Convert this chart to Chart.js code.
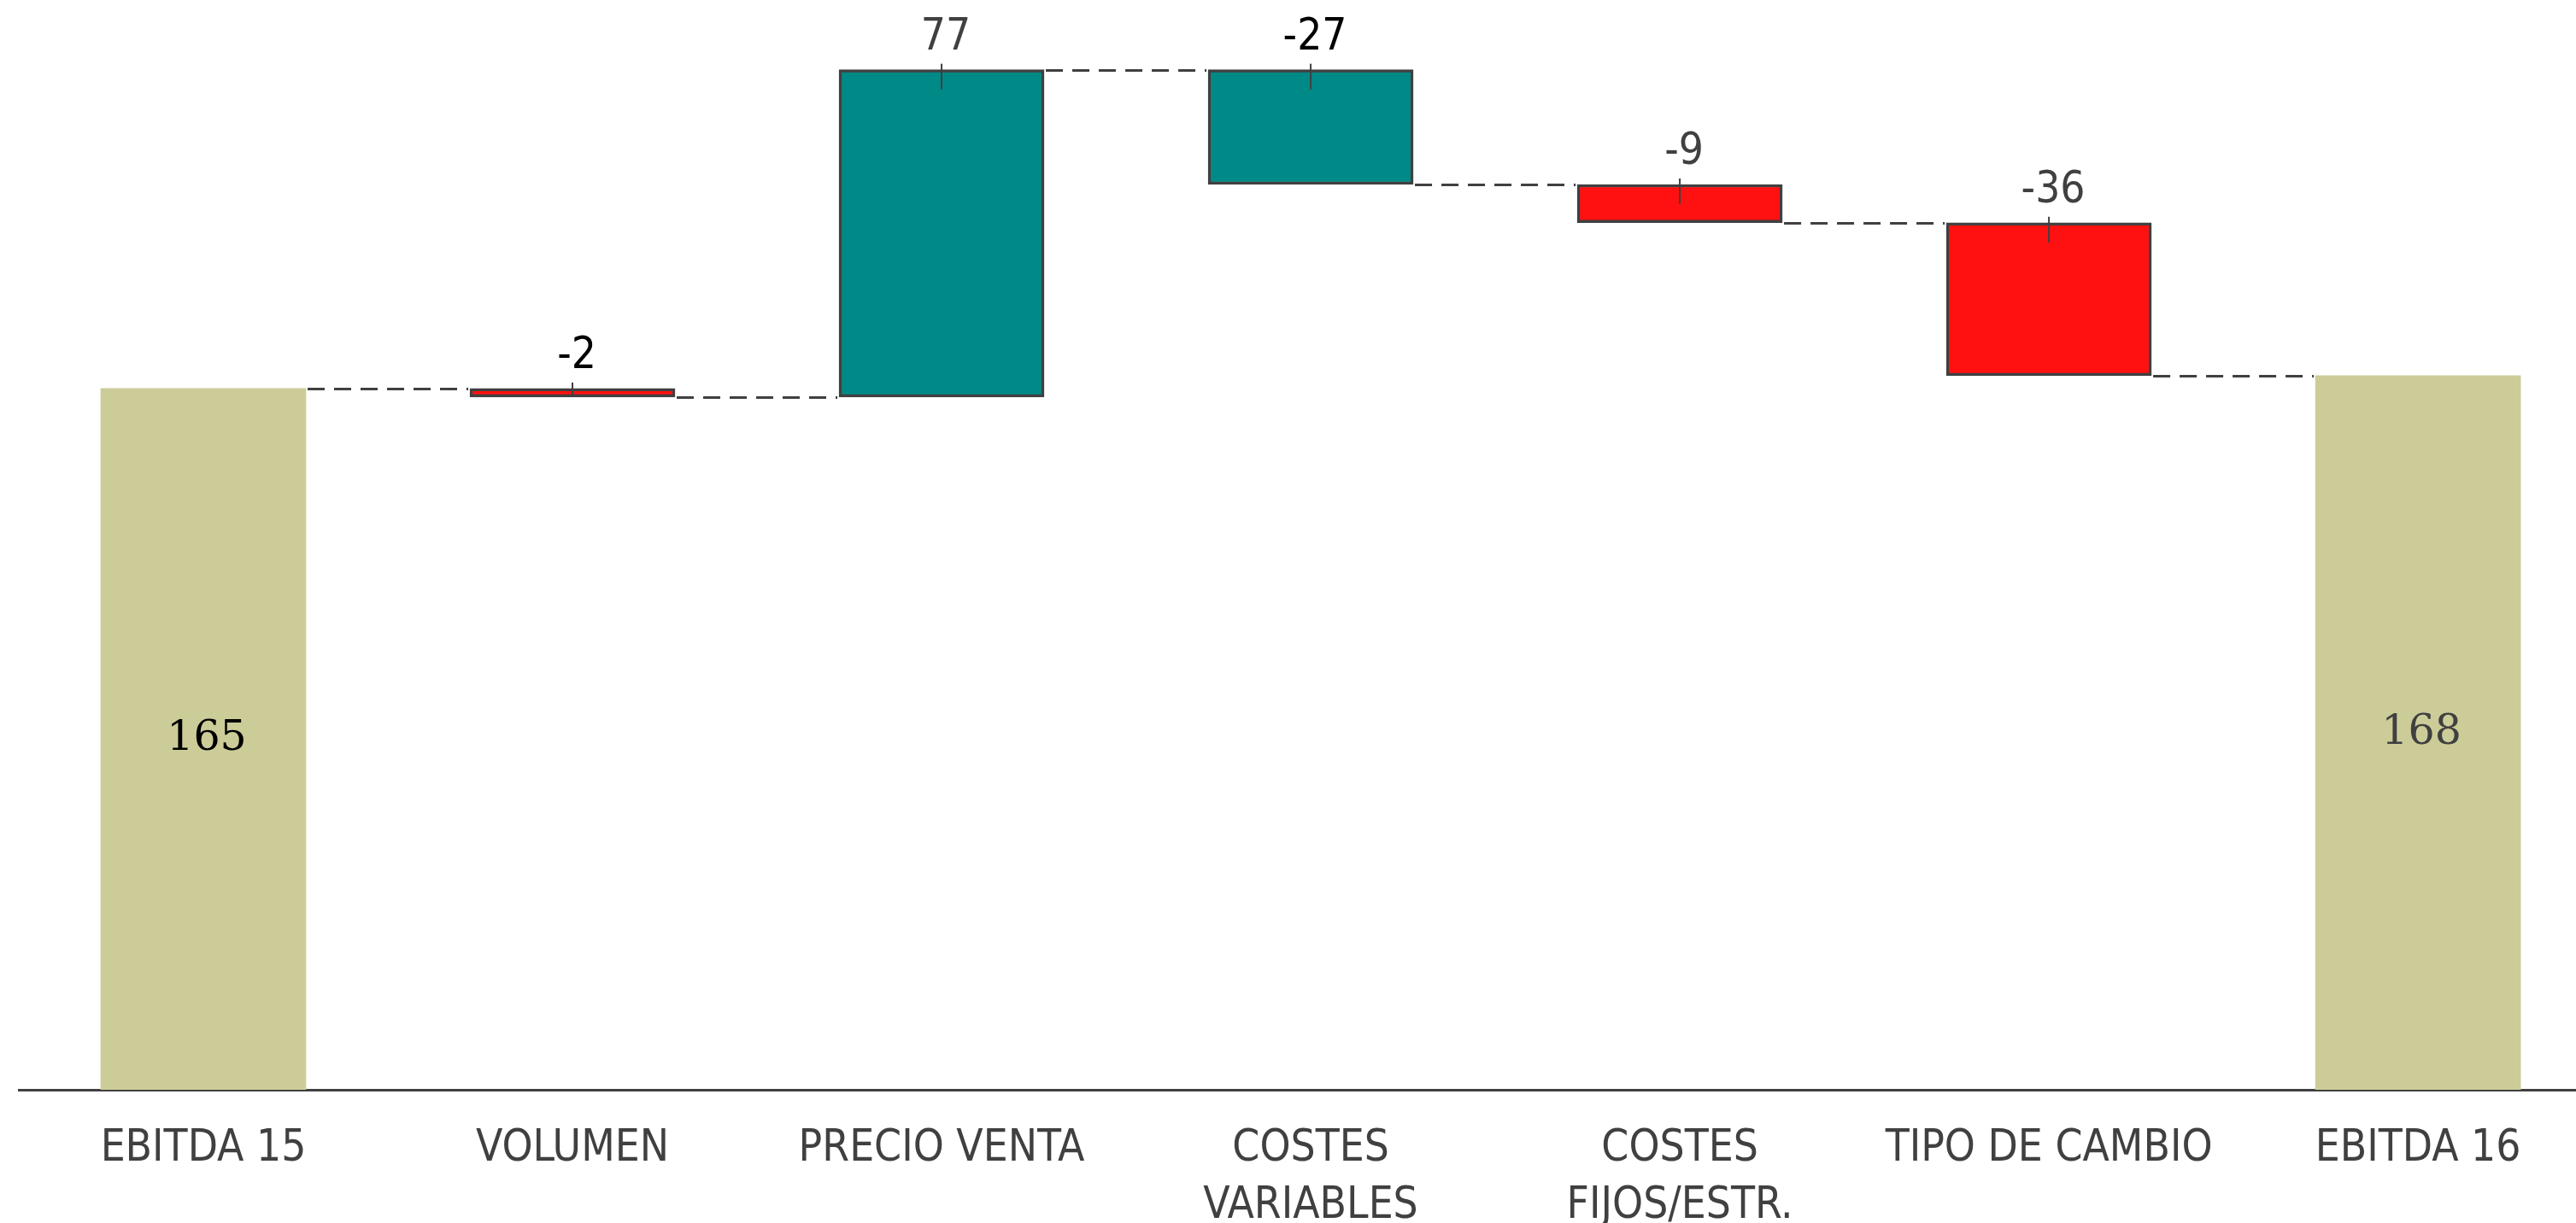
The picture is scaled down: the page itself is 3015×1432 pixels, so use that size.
<!DOCTYPE html>
<html>
<head>
<meta charset="utf-8">
<script src="https://cdn.jsdelivr.net/npm/chart.js@4.4.0/dist/chart.umd.min.js"></script>
<style>
    html, body { margin: 0; padding: 0; background: #ffffff; overflow: hidden; }
    #wrap { width: 3015px; height: 1432px; }
</style>
</head>
<body>
<div id="wrap"><canvas id="chart" width="3015" height="1432"></canvas></div>
<script>
// data
const categories = [['EBITDA 15'], ['VOLUMEN'], ['PRECIO VENTA'], ['COSTES', 'VARIABLES'], ['COSTES', 'FIJOS/ESTR.'], ['TIPO DE CAMBIO'], ['EBITDA 16']];
const changes = [165, -2, 77, -27, -9, -36, 168];
const isTotal = [true, false, false, false, false, false, true];
const barColors = ['#CCCC99', '#FF1111', '#008A87', '#008A87', '#FF1111', '#FF1111', '#CCCC99'];
const valueLabelColors = ['#000000', '#000000', '#404040', '#000000', '#404040', '#404040', '#404040'];

const axisColor = '#404040';
const sansFont = "'DejaVu Sans Condensed', 'DejaVu Sans', sans-serif";
const serifFont = "'DejaVu Serif', serif";

// build floating bars and running levels
let running = 0;
const ranges = [];
const levels = [];
changes.forEach((v, i) => {
    if (isTotal[i]) {
        ranges.push([0, v]);
        running = v;
    } else {
        ranges.push([Math.min(running, running + v), Math.max(running, running + v)]);
        running += v;
    }
    levels.push(running);
});

const waterfallExtras = {
    id: 'waterfallExtras',
    afterDatasetsDraw(chart) {
        const ctx = chart.ctx;
        const meta = chart.getDatasetMeta(0);
        const yScale = chart.scales.y;
        ctx.save();

        // dashed connectors between bars
        ctx.strokeStyle = axisColor;
        ctx.lineWidth = 3;
        ctx.setLineDash([20, 11]);
        for (let i = 0; i < meta.data.length - 1; i++) {
            const a = meta.data[i];
            const b = meta.data[i + 1];
            const y = Math.round(yScale.getPixelForValue(levels[i])) + 0.5;
            ctx.beginPath();
            ctx.moveTo(a.x + a.width / 2 + 2, y);
            ctx.lineTo(b.x - b.width / 2 - 2, y);
            ctx.stroke();
        }
        ctx.setLineDash([]);

        meta.data.forEach((bar, i) => {
            const top = Math.min(bar.y, bar.base);
            const bottom = Math.max(bar.y, bar.base);
            if (isTotal[i]) {
                ctx.font = `49px ${serifFont}`;
                ctx.fillStyle = valueLabelColors[i];
                ctx.textAlign = 'center';
                ctx.textBaseline = 'middle';
                ctx.fillText(String(changes[i]), bar.x + 4, (top + bottom) / 2);
                return;
            }
            // small tick at bar centre
            ctx.strokeStyle = axisColor;
            ctx.lineWidth = 2;
            ctx.beginPath();
            ctx.moveTo(bar.x, top - 7);
            ctx.lineTo(bar.x, Math.min(top + 23, bottom - 3));
            ctx.stroke();

            ctx.font = `51px ${sansFont}`;
            ctx.fillStyle = valueLabelColors[i];
            ctx.textAlign = 'center';
            ctx.textBaseline = 'middle';
            ctx.fillText(String(changes[i]), bar.x + 5, top - 37);
        });
        ctx.restore();
    }
};

const ctx = document.getElementById('chart').getContext('2d');
new Chart(ctx, {
    type: 'bar',
    data: {
        datasets: [{
            data: ranges.map((r, i) => ({ x: i, y: r })),
            backgroundColor: barColors,
            borderColor: axisColor,
            borderWidth: isTotal.map(t => t ? 0 : 3.5),
            borderSkipped: false,
            barThickness: 240
        }]
    },
    options: {
        responsive: false,
        animation: false,
        layout: { padding: { left: 22, right: 0, top: 0, bottom: 0 } },
        plugins: {
            legend: { display: false },
            tooltip: { enabled: false },
            title: { display: false }
        },
        scales: {
            x: {
                type: 'linear',
                offset: false,
                min: -0.5,
                max: 6.428,
                grid: { display: false, offset: false },
                border: { display: true, color: axisColor, width: 3 },
                afterBuildTicks: (scale) => {
                    scale.ticks = categories.map((c, i) => ({ value: i }));
                },
                afterFit: (scale) => {
                    scale.height = 156;
                    scale.paddingLeft = 0;
                    scale.paddingRight = 0;
                },
                ticks: {
                    autoSkip: false,
                    maxRotation: 0,
                    minRotation: 0,
                    padding: 29,
                    color: axisColor,
                    font: { family: sansFont, size: 51, lineHeight: 1.3 },
                    callback: (value) => categories[value]
                }
            },
            y: {
                display: false,
                min: 0,
                max: 256.4
            }
        }
    },
    plugins: [waterfallExtras]
});
</script>
</body>
</html>
